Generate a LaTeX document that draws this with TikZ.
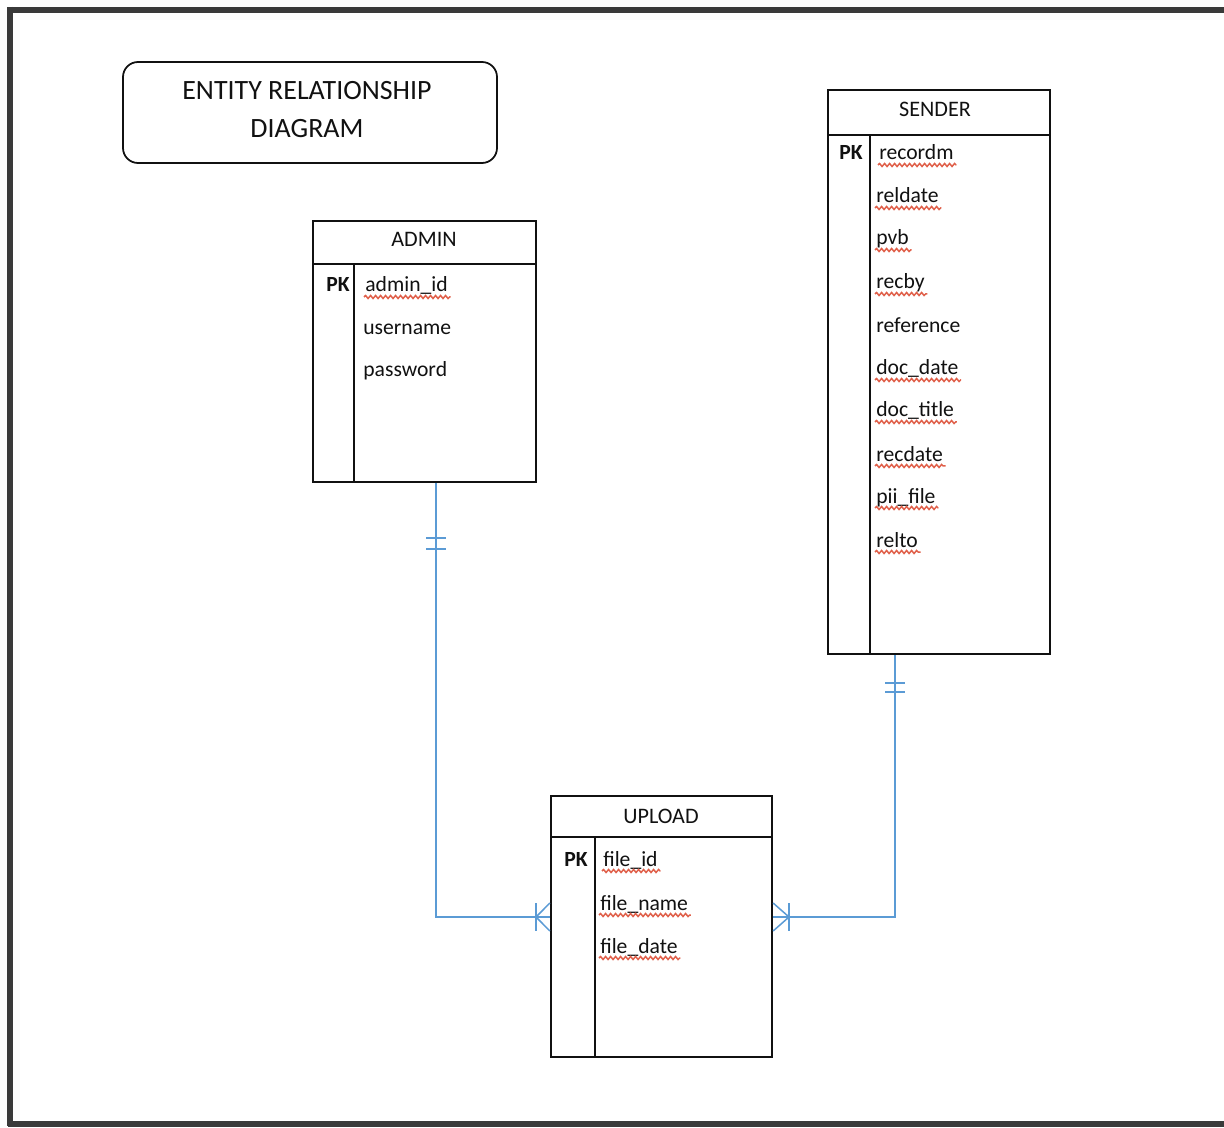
\documentclass[tikz,border=0pt]{standalone}
\usepackage{fontspec}
\setmainfont{Carlito}
\usetikzlibrary{fit,decorations.pathmorphing}
\definecolor{ink}{HTML}{111111}
\definecolor{relblue}{HTML}{5B9BD5}
\definecolor{spellred}{HTML}{E0604A}
\definecolor{framegray}{HTML}{3A3A3A}
\newcommand\squig[1]{\draw[wavy] ([yshift=-0.1cm,xshift=-0.02cm]#1.base west) -- ([yshift=-0.1cm,xshift=0.05cm]#1.base east);}
\begin{document}
\begin{tikzpicture}[x=0.02cm,y=-0.02cm,
  frameline/.style={draw=framegray,line width=0.11cm},
  tbox/.style={draw=ink,line width=0.045cm,inner sep=0pt},
  sepline/.style={draw=ink,line width=0.045cm},
  ttl/.style={anchor=base,inner sep=0pt,text=ink,font=\fontsize{12.6pt}{14pt}\selectfont},
  attr/.style={anchor=base west,inner sep=0pt,text=ink,font=\fontsize{12.3pt}{14pt}\selectfont},
  pk/.style={anchor=base east,inner sep=0pt,text=ink,font=\fontsize{12.3pt}{14pt}\selectfont\bfseries},
  wavy/.style={draw=spellred,line width=0.03cm,decorate,decoration={snake,segment length=0.1cm,amplitude=0.03cm}},
  rel/.style={draw=relblue,line width=0.03cm},
  heading/.style={anchor=base,inner sep=0pt,text=ink,font=\fontsize{15.9pt}{18pt}\selectfont},
  titlebox/.style={draw=ink,line width=0.035cm,rounded corners=0.3cm,inner sep=0pt}
]
\useasboundingbox (0,0) rectangle (1224,1128);
\fill[white] (0,0) rectangle (1224,1128);
% page frame
\draw[frameline] (8,10) -- (1224,10);
\draw[frameline] (10,7) -- (10,1126);
\draw[frameline] (8,1124) -- (1224,1124);

% title
\coordinate (tb1) at (123,62);
\coordinate (tb2) at (497,163);
\node[titlebox,fit=(tb1)(tb2)] (titlebox) {};
\node[heading] (title1) at (307,100) {ENTITY RELATIONSHIP};
\node[heading] (title2) at (307,138) {DIAGRAM};

% ADMIN
\coordinate (ad1) at (313,221);
\coordinate (ad2) at (536,482);
\node[tbox,fit=(ad1)(ad2)] (admin) {};
\draw[sepline] (313,264) -- (536,264);
\draw[sepline] (354,264) -- (354,482);
\node[ttl] (adminT) at (424,247) {ADMIN};
\node[pk] (adminPK) at (350,292) {PK};
\node[attr] (a1) at (365,292) {admin\_id};
\node[attr] (a2) at (363,335) {username};
\node[attr] (a3) at (363,377) {password};
\squig{a1}

% SENDER
\coordinate (se1) at (828,90);
\coordinate (se2) at (1050,654);
\node[tbox,fit=(se1)(se2)] (sender) {};
\draw[sepline] (828,135) -- (1050,135);
\draw[sepline] (870,135) -- (870,654);
\node[ttl] (senderT) at (935,117) {SENDER};
\node[pk] (senderPK) at (863,160) {PK};
\node[attr] (s1) at (879,160) {recordm};
\node[attr] (s2) at (876,203) {reldate};
\node[attr] (s3) at (876,245) {pvb};
\node[attr] (s4) at (876,289) {recby};
\node[attr] (s5) at (876,333) {reference};
\node[attr] (s6) at (876,375) {doc\_date};
\node[attr] (s7) at (876,417) {doc\_title};
\node[attr] (s8) at (876,461) {recdate};
\node[attr] (s9) at (876,503) {pii\_file};
\node[attr] (s10) at (876,547) {relto};
\foreach \n in {s1,s2,s3,s4,s6,s7,s8,s9,s10} {\squig{\n}}

% UPLOAD
\coordinate (up1) at (551,796);
\coordinate (up2) at (772,1057);
\node[tbox,fit=(up1)(up2)] (upload) {};
\draw[sepline] (551,837) -- (772,837);
\draw[sepline] (595,837) -- (595,1057);
\node[ttl] (uploadT) at (661,823) {UPLOAD};
\node[pk] (uploadPK) at (588,866) {PK};
\node[attr] (u1) at (603,866) {file\_id};
\node[attr] (u2) at (600,910) {file\_name};
\node[attr] (u3) at (600,953) {file\_date};
\foreach \n in {u1,u2,u3} {\squig{\n}}

% relationships
\coordinate (bendA) at (436,917);
\coordinate (bendS) at (895,917);
\draw[rel] (admin.south -| bendA) -- (bendA) -- (upload.west |- bendA);
\draw[rel] (sender.south -| bendS) -- (bendS) -- (upload.east |- bendS);
% mandatory one marks
\draw[rel] (426,538) -- (446,538) (426,549) -- (446,549);
\draw[rel] (885,683) -- (905,683) (885,692) -- (905,692);
% one-or-many crow's feet
\coordinate (cfA) at (536,917);
\coordinate (cfS) at (789,917);
\draw[rel] (536,903) -- (536,931);
\draw[rel] (upload.west |- 0,903) -- (cfA) -- (upload.west |- 0,931);
\draw[rel] (789,903) -- (789,931);
\draw[rel] (upload.east |- 0,903) -- (cfS) -- (upload.east |- 0,931);
\end{tikzpicture}
\end{document}
